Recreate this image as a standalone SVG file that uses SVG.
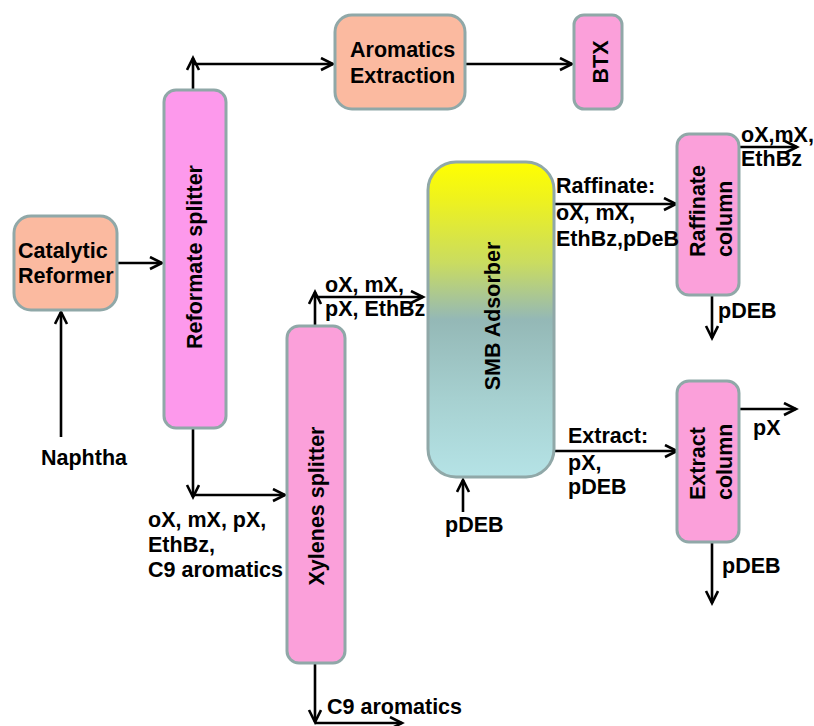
<svg xmlns="http://www.w3.org/2000/svg" width="814" height="726" viewBox="0 0 814 726">
<style>
.box{stroke:#90a8a8;stroke-width:3}
.salmon{fill:#fbbaa0}
.pink1{fill:#fd99ec}
.pink2{fill:#fba0da}
text{font-family:"Liberation Sans",Arial,sans-serif;font-weight:bold;font-size:21.5px;fill:#000}
.c{text-anchor:middle}
.con{fill:none;stroke:#000;stroke-width:2.6}
</style>
<defs>
<marker id="ah" markerUnits="userSpaceOnUse" markerWidth="16" markerHeight="16" refX="13" refY="7" orient="auto">
<path d="M1,1 L13,7 L1,13" fill="none" stroke="#000" stroke-width="2.6"/>
</marker>
<linearGradient id="smb" x1="0" y1="0" x2="0" y2="1">
<stop offset="0" stop-color="#ffff00"/>
<stop offset="0.12" stop-color="#eef21e"/>
<stop offset="0.32" stop-color="#cadc60"/>
<stop offset="0.5" stop-color="#94b8b6"/>
<stop offset="0.75" stop-color="#a6d0d0"/>
<stop offset="1" stop-color="#b5e3e6"/>
</linearGradient>
</defs>

<g id="connectors">
<path class="con" d="M61,437 L61,312" marker-end="url(#ah)"/>
<path class="con" d="M108,263 L162,263" marker-end="url(#ah)"/>
<path class="con" d="M193,90 L193,58" marker-end="url(#ah)"/>
<path class="con" d="M193,64 L333,64" marker-end="url(#ah)"/>
<path class="con" d="M465,64 L572,64" marker-end="url(#ah)"/>
<path class="con" d="M193,428 L193,497" marker-end="url(#ah)"/>
<path class="con" d="M193,495 L285,495" marker-end="url(#ah)"/>
<path class="con" d="M315,326 L315,292" marker-end="url(#ah)"/>
<path class="con" d="M315,297 L423,297" marker-end="url(#ah)"/>
<path class="con" d="M315,663 L315,722" marker-end="url(#ah)"/>
<path class="con" d="M315,723 L402,723" marker-end="url(#ah)"/>
<path class="con" d="M463,512 L463,480" marker-end="url(#ah)"/>
<path class="con" d="M555,204 L676,204" marker-end="url(#ah)"/>
<path class="con" d="M739,147 L797,147" marker-end="url(#ah)"/>
<path class="con" d="M712,295 L712,338" marker-end="url(#ah)"/>
<path class="con" d="M555,451 L677,451" marker-end="url(#ah)"/>
<path class="con" d="M739,409 L796,409" marker-end="url(#ah)"/>
<path class="con" d="M712,542 L712,603" marker-end="url(#ah)"/>
</g>

<g id="catalytic-reformer">
<rect class="box salmon" x="14" y="216" width="103" height="94" rx="17"/>
<text x="18" y="258">Catalytic</text>
<text x="18" y="283">Reformer</text>
</g>

<g id="reformate-splitter">
<rect class="box pink1" x="164" y="90" width="62" height="338" rx="12"/>
<text class="c" transform="translate(202,257) rotate(-90)">Reformate splitter</text>
</g>

<g id="aromatics-extraction">
<rect class="box salmon" x="335" y="15" width="130" height="94" rx="17"/>
<text x="350" y="57">Aromatics</text>
<text x="350" y="83">Extraction</text>
</g>

<g id="btx">
<rect class="box pink2" x="574" y="15" width="48" height="94" rx="10"/>
<text class="c" transform="translate(608,62) rotate(-90)">BTX</text>
</g>

<g id="xylenes-splitter">
<rect class="box pink2" x="287" y="326" width="58" height="337" rx="12"/>
<text class="c" transform="translate(324,506) rotate(-90)">Xylenes splitter</text>
</g>

<g id="smb-adsorber">
<rect class="box" fill="url(#smb)" x="428" y="162" width="126" height="315" rx="28"/>
<text class="c" transform="translate(500,316) rotate(-90)">SMB Adsorber</text>
</g>

<g id="raffinate-column">
<rect class="box pink2" x="677" y="134" width="62" height="161" rx="12"/>
<text transform="translate(705,257) rotate(-90)">Raffinate</text>
<text transform="translate(732,257) rotate(-90)">column</text>
</g>

<g id="extract-column">
<rect class="box pink2" x="677" y="381" width="62" height="161" rx="12"/>
<text transform="translate(705,500) rotate(-90)">Extract</text>
<text transform="translate(732,500) rotate(-90)">column</text>
</g>

<g id="labels">
<text x="41" y="465">Naphtha</text>
<text x="148" y="527">oX, mX, pX,</text>
<text x="148" y="552">EthBz,</text>
<text x="148" y="577">C9 aromatics</text>
<text x="325" y="292">oX, mX,</text>
<text x="325" y="316">pX, EthBz</text>
<text x="327" y="714">C9 aromatics</text>
<text x="556" y="193">Raffinate:</text>
<text x="556" y="220">oX, mX,</text>
<text x="556" y="246">EthBz,pDeB</text>
<text x="741" y="142">oX,mX,</text>
<text x="741" y="166">EthBz</text>
<text x="718" y="318">pDEB</text>
<text x="445" y="532">pDEB</text>
<text x="568" y="443">Extract:</text>
<text x="568" y="470">pX,</text>
<text x="568" y="494">pDEB</text>
<text x="753" y="435">pX</text>
<text x="722" y="573">pDEB</text>
</g>
</svg>
